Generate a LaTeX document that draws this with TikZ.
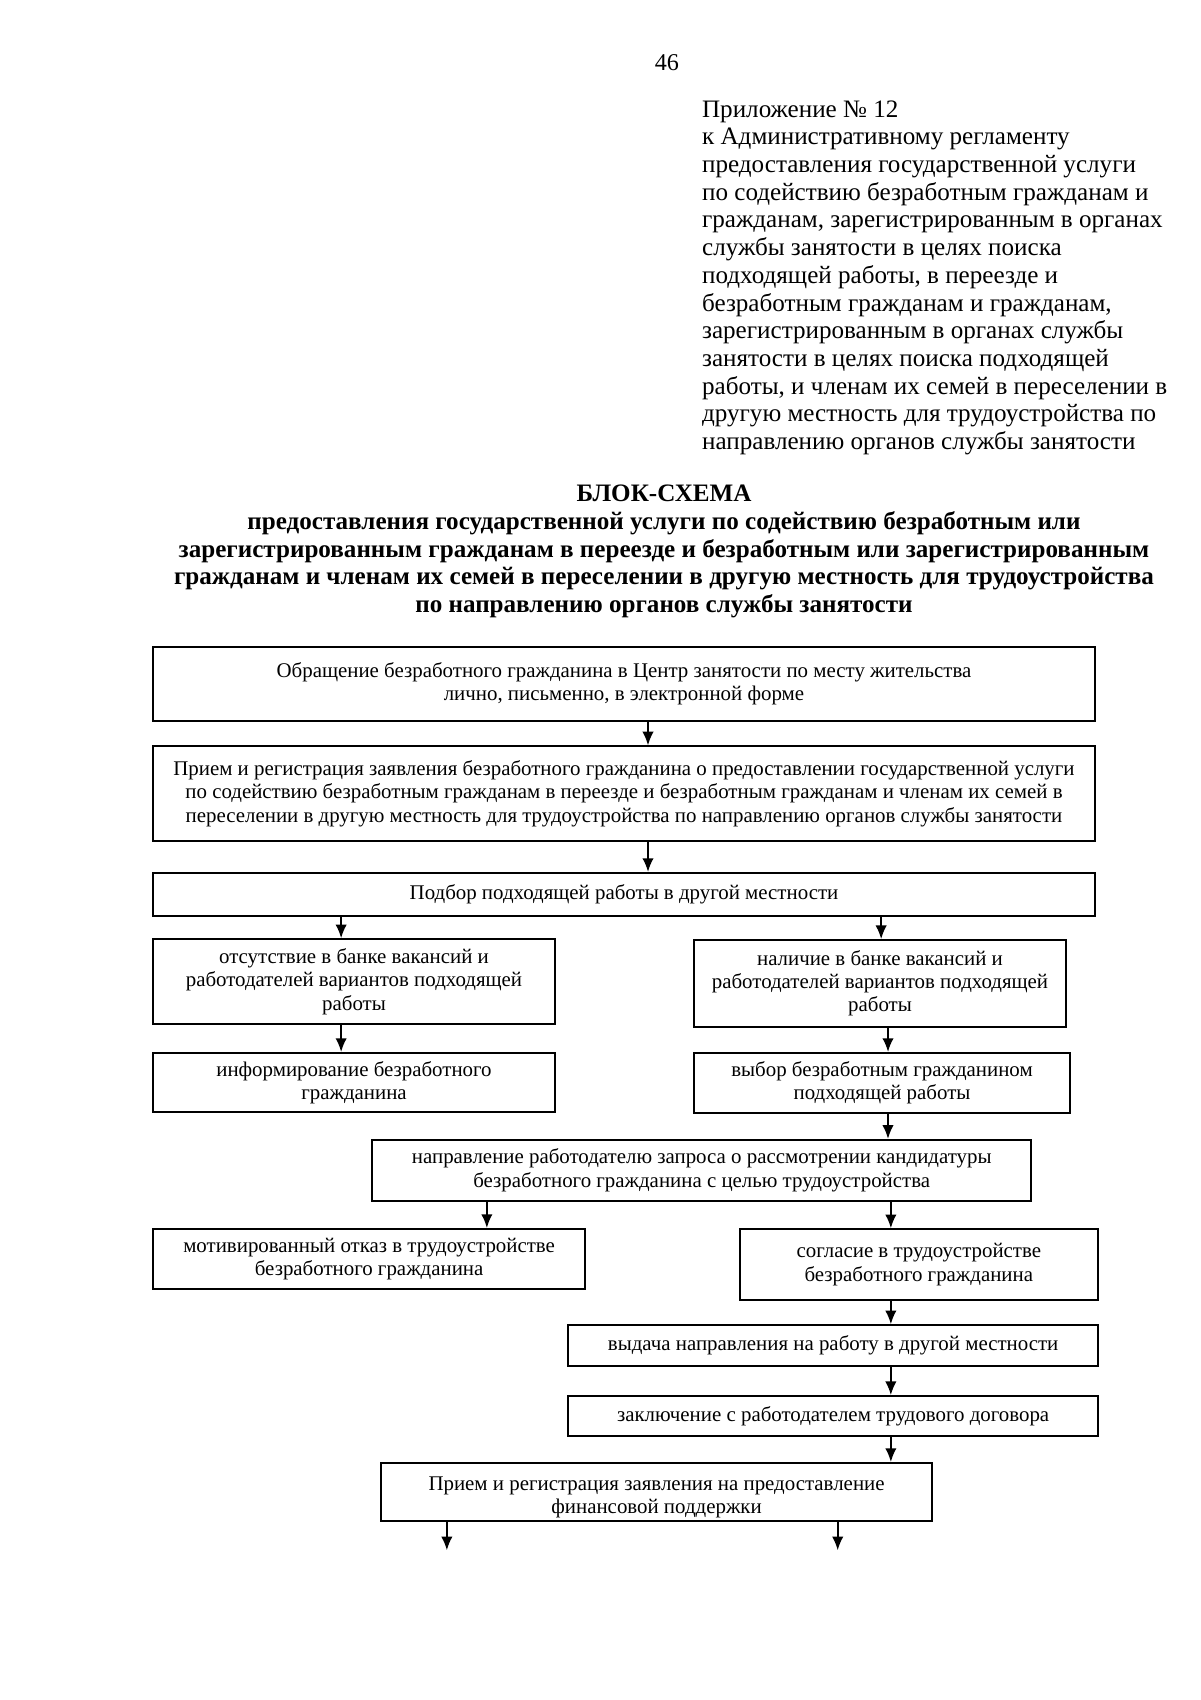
\documentclass[tikz,border=0pt]{standalone}
\usepackage{fontspec}
\setmainfont{Liberation Serif}
\usetikzlibrary{arrows.meta}

\begin{document}
\begin{tikzpicture}[>={Latex[length=2.4mm,width=2mm]},
  box/.style={draw,line width=.9pt,align=center,inner sep=1pt,font=\fontsize{10.4}{11.5}\selectfont},
  arr/.style={->,line width=.9pt}]
\useasboundingbox (0,0) rectangle (21,-29.75);
\node[font=\fontsize{12}{13.8}\selectfont] (page) at (11.67,-1.10) {46};
\node[anchor=north west,inner sep=0,align=left,font=\fontsize{12.5}{13.8}\selectfont] (appx) at (12.28,-1.75)
  {Приложение № 12\\к Административному регламенту\\предоставления  государственной  услуги\\по содействию безработным гражданам и\\гражданам, зарегистрированным в органах\\службы занятости в целях поиска\\подходящей работы, в переезде и\\безработным гражданам и гражданам,\\зарегистрированным в органах службы\\занятости в целях поиска подходящей\\работы, и членам их семей в переселении в\\другую местность для трудоустройства по\\направлению органов службы занятости};
\node[align=center,font=\bfseries\fontsize{12.5}{13.8}\selectfont] (title) at (11.62,-9.65)
  {БЛОК-СХЕМА\\предоставления государственной услуги по содействию безработным или\\зарегистрированным гражданам в переезде и безработным или зарегистрированным\\гражданам и членам их семей в переселении в другую местность для трудоустройства\\по направлению органов службы занятости};
\node[box,minimum width=16.49cm,minimum height=1.30cm] (b1) at (10.92,-11.97)
  {Обращение безработного гражданина в Центр занятости по месту жительства\\лично, письменно, в электронной форме};
\node[box,minimum width=16.49cm,minimum height=1.66cm] (b2) at (10.92,-13.89)
  {Прием и регистрация заявления безработного гражданина о предоставлении государственной услуги\\по содействию безработным гражданам в переезде и безработным гражданам и членам их семей в\\переселении в другую местность для трудоустройства по направлению органов службы занятости};
\node[box,minimum width=16.49cm,minimum height=0.75cm] (b3) at (10.92,-15.65) {Подбор подходящей работы в другой местности};
\node[box,minimum width=7.04cm,minimum height=1.49cm] (b4l) at (6.195,-17.18)
  {отсутствие в банке вакансий и\\работодателей вариантов подходящей\\работы};
\node[box,minimum width=6.51cm,minimum height=1.52cm] (b4r) at (15.40,-17.21)
  {наличие в банке вакансий и\\работодателей вариантов подходящей\\работы};
\node[box,minimum width=7.04cm,minimum height=1.03cm] (b5l) at (6.195,-18.94)
  {информирование безработного\\гражданина};
\node[box,minimum width=6.58cm,minimum height=1.05cm] (b5r) at (15.435,-18.95)
  {выбор безработным гражданином\\подходящей работы};
\node[box,minimum width=11.53cm,minimum height=1.07cm] (b6) at (12.28,-20.48)
  {направление работодателю запроса о рассмотрении кандидатуры\\безработного гражданина с целью трудоустройства};
\node[box,minimum width=7.56cm,minimum height=1.05cm] (b7l) at (6.46,-22.03)
  {мотивированный отказ в трудоустройстве\\безработного гражданина};
\node[box,minimum width=6.27cm,minimum height=1.24cm] (b7r) at (16.08,-22.13)
  {согласие в трудоустройстве\\безработного гражданина};
\node[box,minimum width=9.28cm,minimum height=0.72cm] (b8) at (14.58,-23.55) {выдача направления на работу в другой местности};
\node[box,minimum width=9.28cm,minimum height=0.70cm] (b9) at (14.58,-24.78) {заключение с работодателем трудового договора};
\node[box,minimum width=9.64cm,minimum height=1.02cm,text height=24pt] (b10) at (11.49,-26.11)
  {Прием и регистрация заявления на предоставление\\финансовой поддержки};
\coordinate (xa) at (11.34,0);
\coordinate (xl) at (5.97,0);
\coordinate (xr) at (15.42,0);
\coordinate (xs) at (15.54,0);
\coordinate (xm) at (8.52,0);
\coordinate (xt) at (15.59,0);
\coordinate (out1) at (7.82,-27.13);
\coordinate (out2) at (14.66,-27.13);
\draw[arr] (b1.south -| xa) -- (b2.north -| xa);
\draw[arr] (b2.south -| xa) -- (b3.north -| xa);
\draw[arr] (b3.south -| xl) -- (b4l.north -| xl);
\draw[arr] (b3.south -| xr) -- (b4r.north -| xr);
\draw[arr] (b4l.south -| xl) -- (b5l.north -| xl);
\draw[arr] (b4r.south -| xs) -- (b5r.north -| xs);
\draw[arr] (b5r.south -| xs) -- (b6.north -| xs);
\draw[arr] (b6.south -| xm) -- (b7l.north -| xm);
\draw[arr] (b6.south -| xt) -- (b7r.north -| xt);
\draw[arr] (b7r.south -| xt) -- (b8.north -| xt);
\draw[arr] (b8.south -| xt) -- (b9.north -| xt);
\draw[arr] (b9.south -| xt) -- (b10.north -| xt);
\draw[arr] (b10.south -| out1) -- (out1);
\draw[arr] (b10.south -| out2) -- (out2);
\end{tikzpicture}
\end{document}
